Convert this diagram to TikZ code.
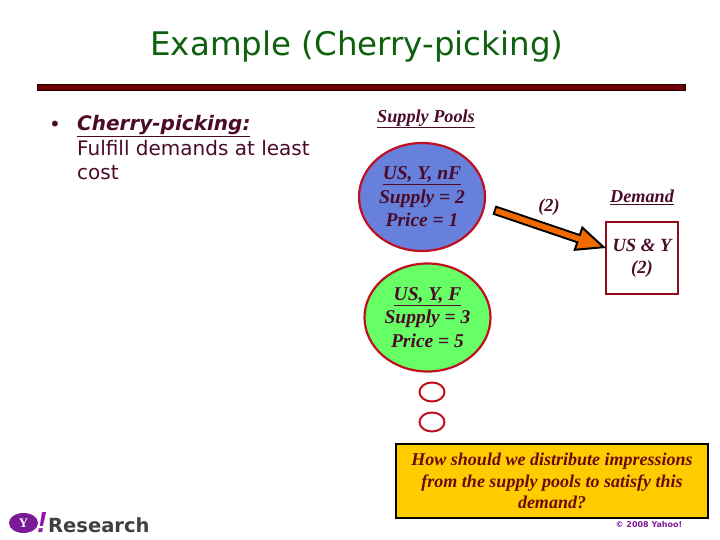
\documentclass[tikz,border=0pt]{standalone}
\usepackage{fontspec}
\usepackage{tikz}
\usetikzlibrary{positioning, arrows.meta, shapes.geometric}
\setmainfont{DejaVu Sans}
\newfontfamily\serifbi[BoldFont={Liberation Serif Bold Italic}]{Liberation Serif}
\newfontfamily\logoserif{Liberation Serif}
\newfontfamily\logofont{Liberation Sans}
\definecolor{titlegreen}{HTML}{0F600F}
\definecolor{barred}{HTML}{6E0005}
\definecolor{inkred}{HTML}{4A0A28}
\definecolor{notered}{HTML}{6A0A10}
\definecolor{poolblue}{HTML}{6680DC}
\definecolor{poolgreen}{HTML}{66FF66}
\definecolor{poolring}{HTML}{C01020}
\definecolor{noteyellow}{HTML}{FFCC00}
\definecolor{flowfill}{HTML}{F06A00}
\definecolor{logopurple}{HTML}{7B1A96}
\tikzset{
	pool/.style={ellipse, draw=poolring, line width=2.2pt, minimum width=126pt, minimum height=108pt, inner sep=0pt, align=center, text=inkred, font=\serifbi\bfseries\fontsize{19.5}{23.5}\selectfont},
	poolgap/.style={ellipse, draw=poolring, line width=2pt, minimum width=25pt, minimum height=19pt, inner sep=0pt},
	caption/.style={text=inkred, font=\serifbi\bfseries\fontsize{18.2}{20}\selectfont, inner sep=0pt, align=center},
}

\begin{document}
\begin{tikzpicture}[x=1pt, y=-1pt]
	\useasboundingbox (0, 0) rectangle (720, 540);

	\draw node (title) at (357, 47) [text=titlegreen, font=\fontsize{32.5}{36}\selectfont] {Example (Cherry-picking)};
	\draw[fill=barred, draw=black!70!barred, line width=0.6pt] (37, 84.5) rectangle (685, 90.5);

	\draw node (bullet) at (55, 126) [text=inkred, font=\fontsize{20}{20}\selectfont, inner sep=0pt] {•};
	\draw node (cherry) at (77, 126) [anchor=west, inner sep=0pt, text=inkred, font=\bfseries\itshape\fontsize{20}{24}\selectfont] {\underline{Cherry-picking:}};
	\draw node (fulfill) at (77, 160) [anchor=west, inner sep=0pt, align=left, text=inkred, font=\fontsize{20}{24}\selectfont] {Fulfill demands at least\\cost};

	\draw node[caption] (poolhead) at (426, 119) {\underline{Supply Pools}};
	\draw node[pool, fill=poolblue] (bluepool) at (422, 197) {\underline{US, Y, nF}\\Supply = 2\\Price = 1};
	\draw node[pool, fill=poolgreen] (greenpool) at (427.5, 317.5) {\underline{US, Y, F}\\Supply = 3\\Price = 5};

	\foreach \n/\p in {1/392,2/422} {
		\draw node[poolgap] (gap\n) at (432, \p) {};
	};

	\draw node[caption] (demandhead) at (642, 197) {\underline{Demand}};
	\draw node[draw=poolring!75!black, line width=1.5pt, minimum width=72pt, minimum height=72pt, inner sep=0pt, align=center, text=inkred, font=\serifbi\bfseries\fontsize{18.6}{22}\selectfont] (demand) at (642, 258) {US \& Y\\(2)};

	\coordinate (flowstart) at (494, 210);
	\coordinate (flowend) at (606, 248);
	\draw[-{Triangle[length=30pt, width=26pt, line width=2pt, fill=flowfill]}, line width=9.5pt, black] (flowstart) -- (flowend);
	\draw[flowfill, line width=5.5pt, shorten <=2pt, shorten >=24pt] (flowstart) -- (flowend);
	\draw node[caption] (flowlabel) at (549, 207) {(2)};

	\draw node[draw=black, fill=noteyellow, line width=2.5pt, minimum width=312pt, minimum height=74pt, inner sep=0pt, align=center, text=notered, font=\serifbi\bfseries\fontsize{18}{21.5}\selectfont] (note) at (552, 481) {How should we distribute impressions\\from the supply pools to satisfy this\\demand?};

	\draw node[ellipse, fill=logopurple, minimum width=29pt, minimum height=20pt, inner sep=0pt, text=white, font=\logoserif\bfseries\fontsize{13}{13}\selectfont] (logo) at (23.5, 523) {Y};
	\draw node (bang) at (42, 523) [inner sep=0pt, text=logopurple!80!magenta, font=\logofont\bfseries\itshape\fontsize{29}{29}\selectfont] {!};
	\draw node (research) at (48, 525) [anchor=west, inner sep=0pt, text=black!75, font=\bfseries\fontsize{19.5}{22}\selectfont] {Research};
	\draw node (copyright) at (649, 525) [inner sep=0pt, text=logopurple, font=\bfseries\fontsize{8}{9}\selectfont] {© 2008 Yahoo!};
\end{tikzpicture}
\end{document}
